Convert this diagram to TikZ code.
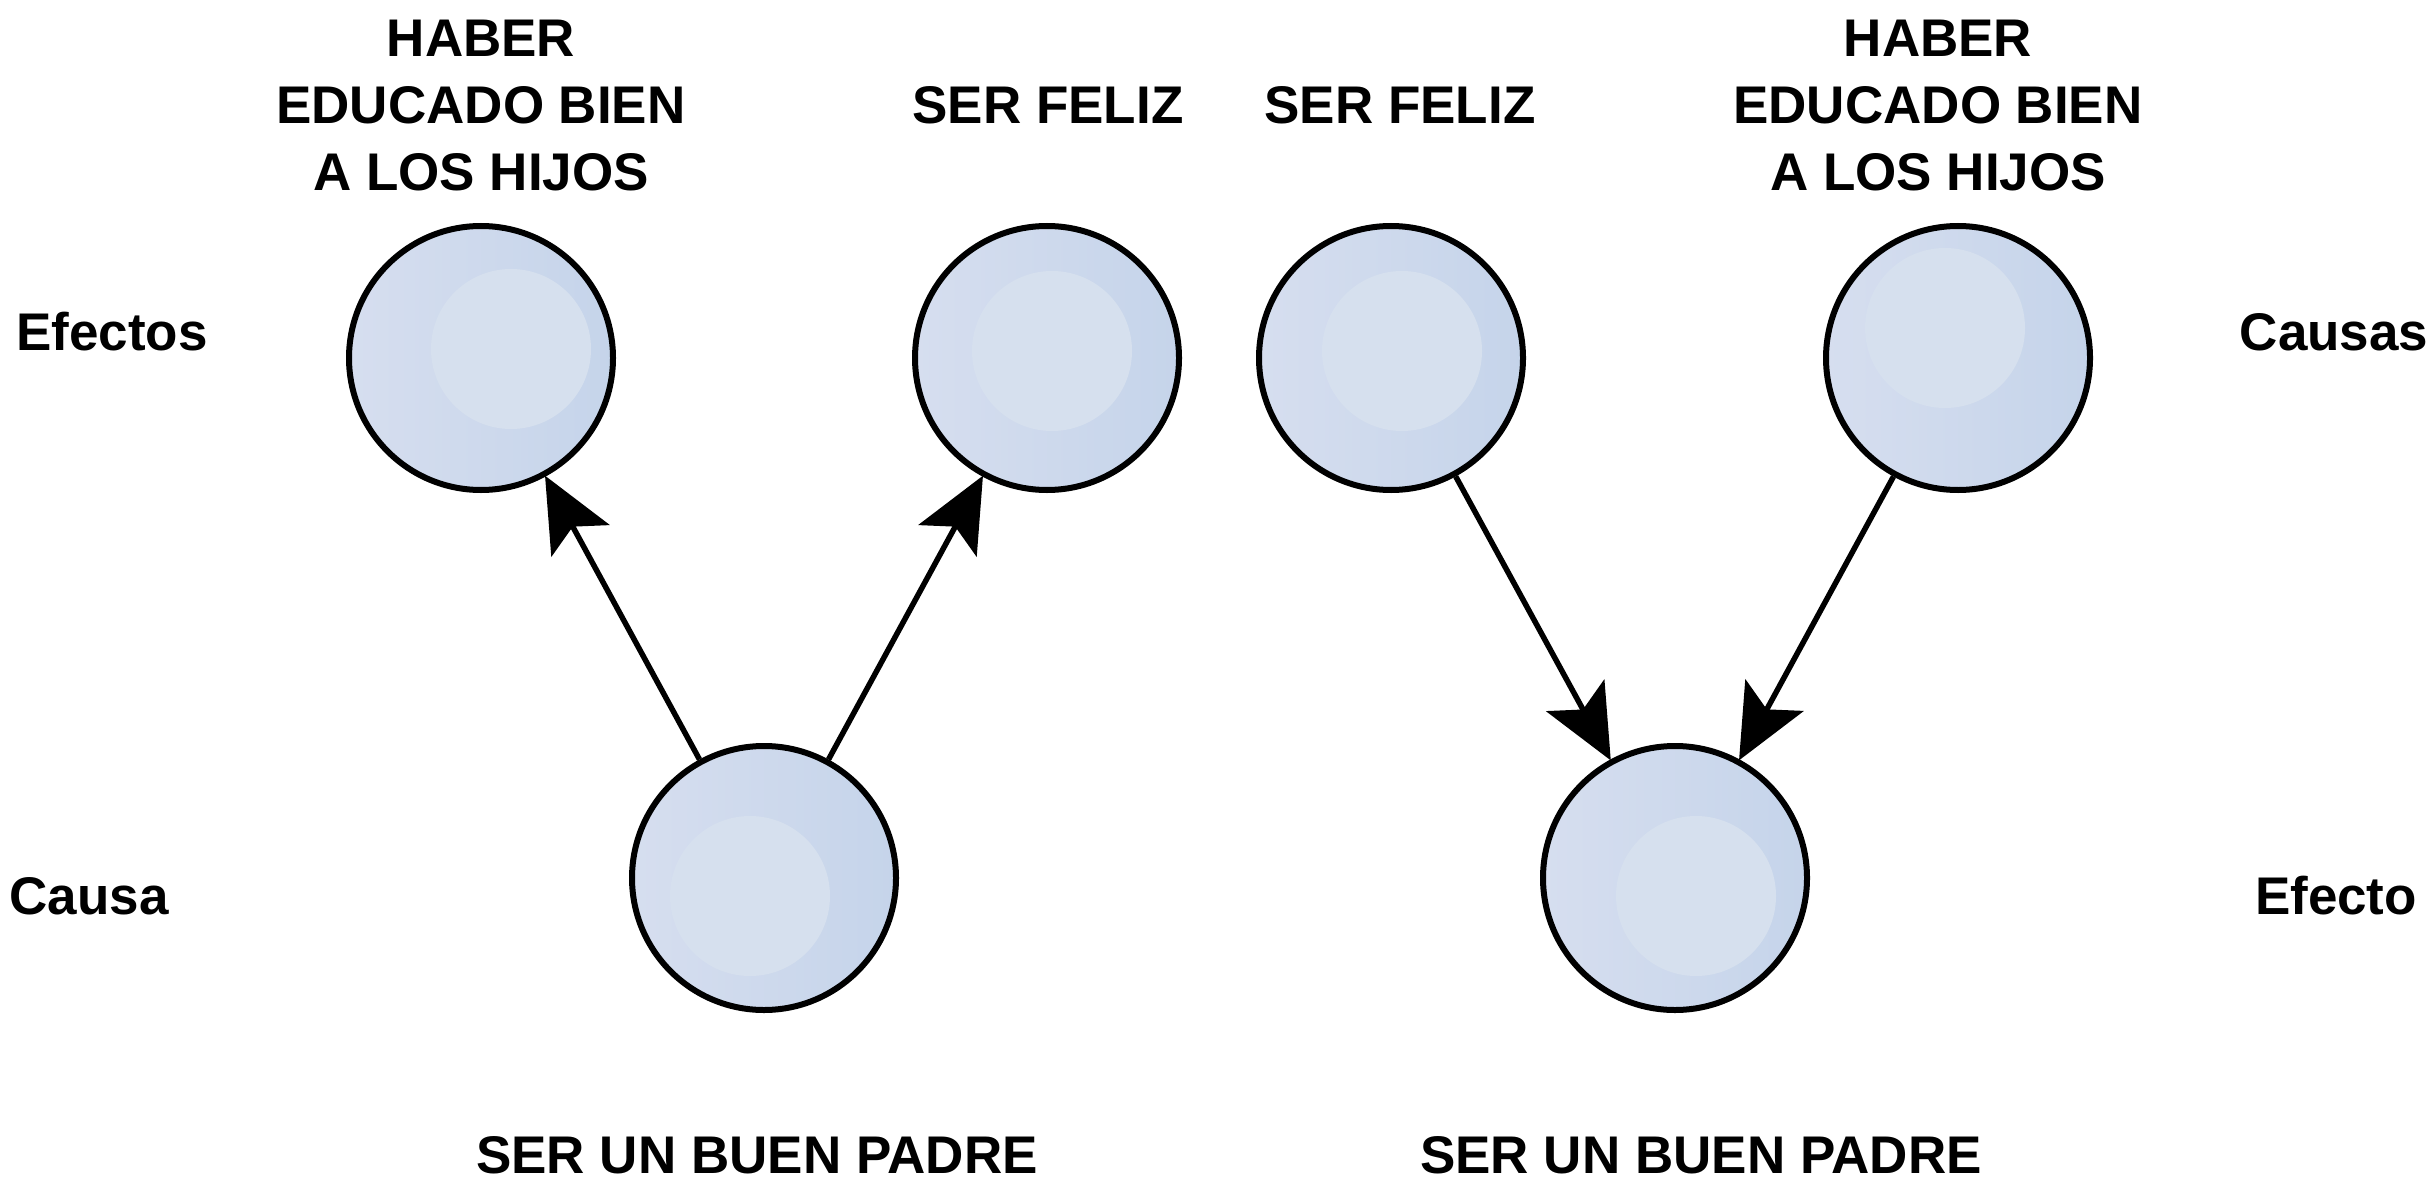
\documentclass[tikz,border=0pt]{standalone}
\usepackage{fontspec}
\setmainfont{Liberation Sans}
\usetikzlibrary{arrows.meta}
\definecolor{ballL}{HTML}{D6DEEF}
\definecolor{ballM}{HTML}{D1DCED}
\definecolor{ballR}{HTML}{C5D4EA}
\definecolor{ballHi}{HTML}{D6E0EE}
\tikzset{
  ball/.style 2 args={circle, minimum size=264pt, inner sep=0pt, line width=6pt, draw=black,
    left color=ballL, middle color=ballM, right color=ballR,
    path picture={\fill[ballHi] ([shift={(#1pt,-#2pt)}]path picture bounding box.center) circle (80pt);}},
  lbl/.style={font=\fontsize{53}{67}\selectfont\bfseries, inner sep=0pt, anchor=base},
  arr/.style={line width=5.5pt, -{Stealth[length=74pt,width=66pt,inset=16pt]}, shorten >=-1pt}
}
\begin{document}
\begin{tikzpicture}[x=1pt,y=-1pt]
\useasboundingbox[fill=white] (0,0) rectangle (2432,1190);
% left graph
\node[ball={30}{-9}] (A) at (481,358) {};
\node[ball={5}{-7}] (B) at (1047,358) {};
\node[ball={-14}{18}] (C) at (764,878) {};
% right graph
\node[ball={11}{-7}] (D) at (1391,358) {};
\node[ball={-13}{-30}] (E) at (1958,358) {};
\node[ball={21}{18}] (F) at (1675,878) {};
% arrows
\draw[arr] (C) -- (A);
\draw[arr] (C) -- (B);
\draw[arr] (D) -- (F);
\draw[arr] (E) -- (F);
% top labels
\node[lbl] (a1) at (481,57) {HABER};
\node[lbl] (a2) at (481,124) {EDUCADO BIEN};
\node[lbl] (a3) at (481,191) {A LOS HIJOS};
\node[lbl] (b1) at (1048,124) {SER FELIZ};
\node[lbl] (d1) at (1400,124) {SER FELIZ};
\node[lbl] (e1) at (1938,57) {HABER};
\node[lbl] (e2) at (1938,124) {EDUCADO BIEN};
\node[lbl] (e3) at (1938,191) {A LOS HIJOS};
% bottom labels
\node[lbl] (c1) at (757,1173) {SER UN BUEN PADRE};
\node[lbl] (f1) at (1701,1173) {SER UN BUEN PADRE};
% side labels
\node[lbl] (s1) at (112,350) {Efectos};
\node[lbl] (s2) at (89,914) {Causa};
\node[lbl] (s3) at (2334,350) {Causas};
\node[lbl] (s4) at (2336,914) {Efecto};
\end{tikzpicture}
\end{document}
